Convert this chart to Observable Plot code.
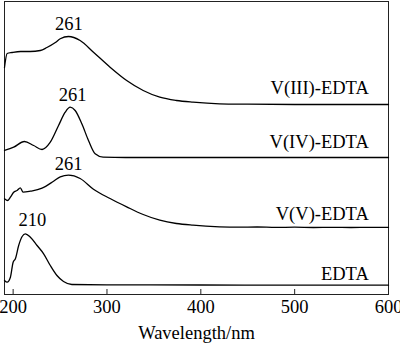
<!DOCTYPE html>
<html>
<head>
<meta charset="utf-8">
<script src="https://cdn.jsdelivr.net/npm/d3@7"></script>
<script src="https://cdn.jsdelivr.net/npm/@observablehq/plot@0.6"></script>
<style>
  html, body { margin: 0; padding: 0; background: #fff; }
  #chart { width: 400px; height: 343px; }
  #chart svg, #chart svg text { font-family: "Liberation Serif", "Times New Roman", serif !important; }
</style>
</head>
<body>
<div id="chart"></div>
<script>
// Wavelength (nm) and stacked absorbance (a.u., offset) for each spectrum
const wlV3  = [190.8, 193.6, 199, 208, 218, 229, 236, 245, 250.2, 259, 271.4, 285.6, 303.3, 321, 338.6, 356.3, 374, 391.7, 420, 450, 500, 550, 600];
const absV3 = [2.27, 2.41, 2.42, 2.43, 2.43, 2.44, 2.47, 2.52, 2.557, 2.58, 2.54, 2.423, 2.273, 2.14, 2.04, 1.973, 1.94, 1.923, 1.907, 1.903, 1.90, 1.90, 1.90];

const wlV4  = [190.8, 200.6, 212, 221.9, 230.8, 239.6, 248.4, 255.5, 260.8, 266.1, 273.2, 280.3, 287.4, 295.9, 320, 400, 500, 600];
const absV4 = [1.44, 1.473, 1.53, 1.49, 1.45, 1.523, 1.69, 1.823, 1.873, 1.84, 1.707, 1.54, 1.407, 1.373, 1.37, 1.37, 1.37, 1.37];

const wlV5  = [190.8, 194.3, 197.1, 200.6, 204.2, 207.7, 210.6, 218.4, 230.8, 243.1, 250.2, 259, 271.4, 285.6, 303.3, 321, 338.6, 356.3, 374, 391.7, 420, 440, 460, 480, 500, 520, 540, 560, 580, 600];
const absV5 = [0.957, 0.94, 0.973, 1.023, 1.04, 1.067, 1.023, 1.033, 1.063, 1.133, 1.177, 1.193, 1.16, 1.053, 0.96, 0.877, 0.80, 0.743, 0.71, 0.693, 0.677, 0.673, 0.675, 0.671, 0.673, 0.670, 0.672, 0.670, 0.672, 0.671];

const wlE   = [190.8, 193.6, 197.1, 200, 202.4, 205.9, 209.6, 213, 218.4, 225.5, 232.5, 239.6, 246.7, 253.7, 262.6, 299.8, 400, 500, 600];
const absE  = [0.14, 0.123, 0.173, 0.323, 0.357, 0.49, 0.58, 0.607, 0.573, 0.49, 0.407, 0.29, 0.19, 0.13, 0.10, 0.097, 0.095, 0.093, 0.093];

const seriesNames = ["V(III)-EDTA", "V(IV)-EDTA", "V(V)-EDTA", "EDTA"];
const seriesLabelY = [2.065, 1.52, 0.80, 0.207];
const seriesLabelX = 579;

const peakLabels = ["261", "261", "261", "210"];
const peakLabelX = [259.5, 263.5, 259, 220.5];
const peakLabelY = [2.705, 1.99, 1.30, 0.745];

const xTicks = [200, 300, 400, 500, 600];
const xTitle = "Wavelength/nm";

const spectra = [
  [wlV3, absV3], [wlV4, absV4], [wlV5, absV5], [wlE, absE]
].flatMap(([wl, ab], i) => wl.map((w, j) => ({series: seriesNames[i], wl: w, a: ab[j]})));

const seriesLabels = seriesNames.map((s, i) => ({text: s, x: seriesLabelX, y: seriesLabelY[i]}));
const peaks = peakLabels.map((t, i) => ({text: t, x: peakLabelX[i], y: peakLabelY[i]}));

const font = "Liberation Serif, Times New Roman, serif";

const chart = Plot.plot({
  width: 400,
  height: 343,
  marginLeft: 4,
  marginRight: 12,
  marginTop: 1,
  marginBottom: 49,
  style: {fontFamily: font, fontSize: "18.5px", color: "#000", background: "#fff"},
  x: {domain: [190.8, 600]},
  y: {domain: [0, 2.93], axis: null},
  marks: [
    Plot.frame({stroke: "#222", strokeWidth: 1}),
    Plot.axisX({ticks: xTicks, tickSize: -5, tickPadding: 10, tickFormat: d3.format("d"), label: null, fontSize: 18.5, fontFamily: font, stroke: "#222"}),
    Plot.line(spectra, {x: "wl", y: "a", z: "series", stroke: "#000", strokeWidth: 1.3, curve: "monotone-x"}),
    Plot.text(seriesLabels, {x: "x", y: "y", text: "text", textAnchor: "end", lineAnchor: "middle", fontSize: 18.5, fontFamily: font, fill: "#000"}),
    Plot.text(peaks, {x: "x", y: "y", text: "text", textAnchor: "middle", lineAnchor: "middle", fontSize: 18.5, fontFamily: font, fill: "#000"}),
    Plot.text([xTitle], {frameAnchor: "bottom", dy: 44, lineAnchor: "bottom", fontSize: 18.5, fontFamily: font, fill: "#000"})
  ]
});
document.getElementById("chart").appendChild(chart);
</script>
</body>
</html>
